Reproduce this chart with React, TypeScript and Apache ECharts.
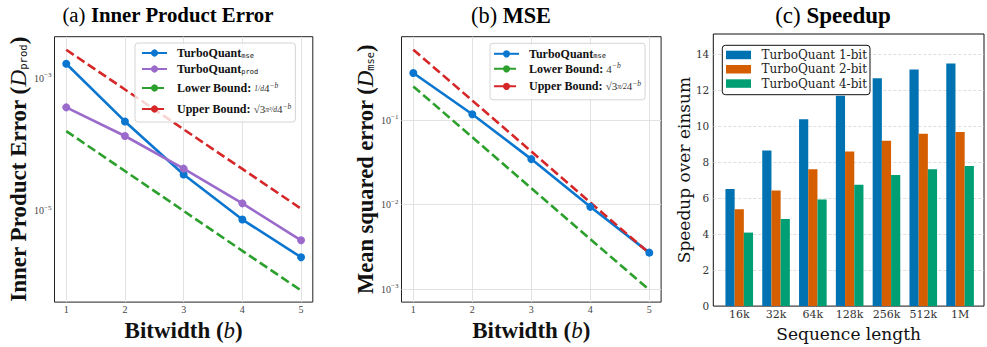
import React, { useEffect, useRef } from 'react';
import * as echarts from 'echarts';

// ---------- data ----------
const bitwidths = [1, 2, 3, 4, 5];
// (a) Inner product error
const ipTurboMse = [1.66e-3, 2.24e-4, 3.55e-5, 7.4e-6, 2.0e-6];
const ipTurboProd = [3.65e-4, 1.35e-4, 4.35e-5, 1.3e-5, 3.6e-6];
const ipLowerBound = [1.6e-4, 4.0e-5, 1.0e-5, 2.5e-6, 6.3e-7];
const ipUpperBound = [2.7e-3, 6.8e-4, 1.7e-4, 4.3e-5, 1.08e-5];
const ipGridValues = [1e-3, 1e-5];
const ipYRange = [4.21e-7, 4.25e-3];
// (b) MSE
const mseTurbo = [0.36, 0.117, 0.0345, 0.0094, 0.0027];
const mseLowerBound = [0.25, 0.0625, 0.0156, 0.0039, 0.00098];
const mseUpperBound = [0.68, 0.17, 0.0425, 0.0106, 0.00266];
const mseYRange = [7.02e-4, 0.968];
// (c) Speedup
const seqLengths = ['16k', '32k', '64k', '128k', '256k', '512k', '1M'];
const speedup1bit = [6.5, 8.63, 10.37, 11.67, 12.64, 13.13, 13.46];
const speedup2bit = [5.38, 6.41, 7.6, 8.58, 9.18, 9.56, 9.66];
const speedup4bit = [4.08, 4.84, 5.92, 6.74, 7.28, 7.6, 7.77];
const speedupMax = 15.1;
const seqIndexRange = [-0.705, 6.65];

// ---------- styles ----------
const SERIF = "'Liberation Serif', 'Times New Roman', serif";
const DEJAVU = "'DejaVu Serif', serif";
const MONO = "'DejaVu Sans Mono', monospace";
const BLUE = '#0b76cf';
const PURPLE = '#9b6bcc';
const GREEN = '#2ca02c';
const RED = '#d62728';
const BAR1 = '#0072B2';
const BAR2 = '#D55E00';
const BAR3 = '#009E73';
const GRID = '#e2e2e2';

const toXY = (ys: number[]) => bitwidths.map((b, i) => [b, ys[i]]);
const toIdx = (ys: number[]) => ys.map((v, i) => [i, v]);

const intLabel = (v: number) => (Math.abs(v - Math.round(v)) < 1e-9 ? String(Math.round(v)) : '');
const seqLabel = (v: number) => {
  const r = Math.round(v);
  return Math.abs(v - r) < 1e-9 && r >= 0 && r < seqLengths.length ? seqLengths[r] : '';
};
const logLabel = (keep: (e: number) => boolean) => (v: number) => {
  const l = Math.log10(v);
  const e = Math.round(l);
  if (Math.abs(l - e) > 1e-6 || !keep(e)) return '';
  return `{b|10}{s|\u2212${-e}}`;
};
const logRich = {
  b: { fontFamily: SERIF, fontSize: 10, color: '#444' },
  s: { fontFamily: SERIF, fontSize: 7, color: '#444', padding: [0, 0, 6, 0] },
};

const nameRich = (size: number) => ({
  t: { fontFamily: SERIF, fontSize: size, fontWeight: 'bold', color: '#111' },
  i: { fontFamily: SERIF, fontSize: size, fontStyle: 'italic', color: '#111' },
  sub: { fontFamily: MONO, fontSize: size * 0.46, color: '#111', padding: [size * 0.4, 0, 0, 0] },
});

const legendRich = {
  t0: { fontFamily: SERIF, fontSize: 12, fontWeight: 'bold', color: '#111', padding: [0, 0, 0, 5] },
  m: { fontFamily: SERIF, fontSize: 11, color: '#333' },
  fr: { fontFamily: SERIF, fontSize: 7.5, fontStyle: 'italic', color: '#333' },
  sup: { fontFamily: SERIF, fontSize: 7.5, fontStyle: 'italic', color: '#333', padding: [0, 0, 6, 0] },
  sub: { fontFamily: MONO, fontSize: 7, color: '#111', padding: [5, 0, 0, 0] },
};

const legendText: Record<string, string> = {
  'a-mse': '{t0|TurboQuant}{sub|mse}',
  'a-prod': '{t0|TurboQuant}{sub|prod}',
  'a-lower': '{t0|Lower Bound: }{fr|1/d}{m|4}{sup|\u2212b}',
  'a-upper': '{t0|Upper Bound: }{m|\u221a3}{fr|\u03c0\u00b2/d}{m|4}{sup|\u2212b}',
  'b-mse': '{t0|TurboQuant}{sub|mse}',
  'b-lower': '{t0|Lower Bound: }{m|4}{sup|\u2212b}',
  'b-upper': '{t0|Upper Bound: }{m|\u221a3}{fr|\u03c0/2}{m|4}{sup|\u2212b}',
};

const titleRich = (size: number) => ({
  n: { fontFamily: SERIF, fontSize: size, fill: '#000', color: '#000' },
  b: { fontFamily: SERIF, fontSize: size, fontWeight: 'bold', fill: '#000', color: '#000' },
});
const titleText = (text: string, x: number, size: number) => ({
  type: 'text',
  x,
  y: 4,
  style: { text, rich: titleRich(size), align: 'center', verticalAlign: 'top' },
});

const lineSeries = (name: string, axis: number, ys: number[], color: string, dashed: boolean) => ({
  name,
  type: 'line',
  xAxisIndex: axis,
  yAxisIndex: axis,
  data: toXY(ys),
  symbol: dashed ? 'none' : 'circle',
  symbolSize: 8,
  lineStyle: { color, width: 2.6, type: dashed ? [9, 4] : 'solid' },
  itemStyle: { color },
});

const barSeries = (name: string, ys: number[], color: string) => ({
  name,
  type: 'bar',
  xAxisIndex: 2,
  yAxisIndex: 2,
  data: toIdx(ys),
  barWidth: '25%',
  barGap: '0%',
  itemStyle: { color },
});

const bitAxis = (gridIndex: number) => ({
  type: 'value',
  gridIndex,
  min: 0.8,
  max: 5.2,
  axisLine: { show: false },
  axisTick: { show: false },
  axisLabel: { formatter: intLabel, fontFamily: SERIF, fontSize: 10, color: '#444', margin: 2 },
  splitLine: { show: true, showMinLine: false, showMaxLine: false, lineStyle: { color: GRID, width: 1 } },
  name: '{t|Bitwidth (}{i|b}{t|)}',
  nameLocation: 'middle',
  nameGap: 9,
  nameTextStyle: { rich: nameRich(23) },
});

export default function App() {
  const ref = useRef<HTMLDivElement>(null);
  useEffect(() => {
    document.body.style.margin = '0';
    if (!ref.current) return;
    const chart = echarts.init(ref.current, undefined, { renderer: 'svg' });
    const option: any = {
      animation: false,
      backgroundColor: '#fff',
      graphic: [
        titleText('{n|(a) }{b|Inner Product Error}', 168, 20.8),
        titleText('{n|(b) }{b|MSE}', 511, 22.3),
        titleText('{n|(c) }{b|Speedup}', 833, 23),
      ],
      grid: [
        { left: 54.5, top: 36.7, width: 258.3, height: 271.6, show: true, borderColor: '#222', borderWidth: 1, backgroundColor: 'transparent' },
        { left: 401.5, top: 36.7, width: 259.6, height: 271.6, show: true, borderColor: '#222', borderWidth: 1, backgroundColor: 'transparent' },
        { left: 713.3, top: 34, width: 273, height: 278.3, show: true, borderColor: '#111', borderWidth: 1, backgroundColor: 'transparent' },
      ],
      xAxis: [
        bitAxis(0),
        bitAxis(1),
        {
          type: 'value',
          gridIndex: 2,
          min: seqIndexRange[0],
          max: seqIndexRange[1],
          splitNumber: 7,
          axisLine: { show: false },
          axisTick: { show: false },
          splitLine: { show: false },
          axisLabel: { formatter: seqLabel, fontFamily: DEJAVU, fontSize: 11, color: '#333', margin: 3 },
          name: 'Sequence length',
          nameLocation: 'middle',
          nameGap: 13,
          nameTextStyle: { fontFamily: DEJAVU, fontSize: 17, color: '#111' },
        },
      ],
      yAxis: [
        {
          type: 'log',
          logBase: 10,
          gridIndex: 0,
          min: ipYRange[0],
          max: ipYRange[1],
          axisLine: { show: false },
          axisTick: { show: false },
          splitLine: { show: false },
          axisLabel: { formatter: logLabel((e) => e === -3 || e === -5), rich: logRich, margin: 3 },
          name: '{t|Inner Product Error (}{i|D}{sub|prod}{t|)}',
          nameLocation: 'middle',
          nameGap: 23,
          nameTextStyle: { rich: nameRich(23) },
        },
        {
          type: 'log',
          logBase: 10,
          gridIndex: 1,
          min: mseYRange[0],
          max: mseYRange[1],
          axisLine: { show: false },
          axisTick: { show: false },
          splitLine: { show: true, showMinLine: false, showMaxLine: false, lineStyle: { color: GRID, width: 1 } },
          axisLabel: { formatter: logLabel(() => true), rich: logRich, margin: 3 },
          name: '{t|Mean squared error (}{i|D}{sub|mse}{t|)}',
          nameLocation: 'middle',
          nameGap: 23,
          nameTextStyle: { rich: nameRich(22.5) },
        },
        {
          type: 'value',
          gridIndex: 2,
          min: 0,
          max: speedupMax,
          interval: 2,
          axisLine: { show: false },
          axisTick: { show: false },
          axisLabel: {
            formatter: (v: number) => (v % 2 === 0 && v <= 14 ? String(v) : ''),
            fontFamily: DEJAVU,
            fontSize: 10.5,
            color: '#333',
            margin: 4,
          },
          splitLine: { show: true, showMinLine: false, showMaxLine: false, lineStyle: { color: '#d6d6d6', width: 0.8, type: [3, 2] } },
          name: 'Speedup over einsum',
          nameLocation: 'middle',
          nameGap: 20,
          nameTextStyle: { fontFamily: DEJAVU, fontSize: 17, color: '#111' },
        },
      ],
      legend: [
        {
          orient: 'vertical',
          left: 135,
          top: 43,
          padding: [3, 4, 2, 6],
          itemGap: 0,
          itemWidth: 25,
          itemHeight: 9,
          selectedMode: false,
          backgroundColor: 'rgba(255,255,255,0.8)',
          borderColor: '#d4d4d4',
          borderWidth: 1,
          borderRadius: 3,
          formatter: (n: string) => legendText[n],
          textStyle: { rich: legendRich },
          data: [
            { name: 'a-mse', textStyle: { lineHeight: 14 } },
            { name: 'a-prod', textStyle: { lineHeight: 18 } },
            { name: 'a-lower', textStyle: { lineHeight: 20 } },
            { name: 'a-upper', textStyle: { lineHeight: 22 } },
          ],
        },
        {
          orient: 'vertical',
          left: 490,
          top: 43.3,
          padding: [3, 4, 3.5, 3],
          itemGap: 0,
          itemWidth: 25,
          itemHeight: 9,
          selectedMode: false,
          backgroundColor: 'rgba(255,255,255,0.8)',
          borderColor: '#d4d4d4',
          borderWidth: 1,
          borderRadius: 3,
          formatter: (n: string) => legendText[n],
          textStyle: { rich: legendRich },
          data: [
            { name: 'b-mse', textStyle: { lineHeight: 15 } },
            { name: 'b-lower', textStyle: { lineHeight: 15 } },
            { name: 'b-upper', textStyle: { lineHeight: 20 } },
          ],
        },
        {
          orient: 'vertical',
          left: 722.3,
          top: 45.3,
          padding: [2.5, 3, 4, 3.7],
          itemGap: 0,
          itemWidth: 25,
          itemHeight: 8.5,
          icon: 'rect',
          selectedMode: false,
          backgroundColor: '#fff',
          borderColor: '#111',
          borderWidth: 1,
          borderRadius: 3,
          formatter: (n: string) => `{t|${n}}`,
          textStyle: {
            lineHeight: 14.3,
            rich: { t: { fontFamily: DEJAVU, fontSize: 12, color: '#222', padding: [0, 0, 0, 5.5] } },
          },
          data: ['TurboQuant 1-bit', 'TurboQuant 2-bit', 'TurboQuant 4-bit'],
        },
      ],
      series: [
        {
          name: 'a-grid',
          type: 'line',
          xAxisIndex: 0,
          yAxisIndex: 0,
          data: [],
          silent: true,
          markLine: {
            silent: true,
            z: 1,
            symbol: 'none',
            label: { show: false },
            lineStyle: { color: GRID, width: 1, type: 'solid' },
            data: ipGridValues.map((v) => ({ yAxis: v })),
          },
        },
        lineSeries('a-mse', 0, ipTurboMse, BLUE, false),
        lineSeries('a-prod', 0, ipTurboProd, PURPLE, false),
        lineSeries('a-lower', 0, ipLowerBound, GREEN, true),
        lineSeries('a-upper', 0, ipUpperBound, RED, true),
        lineSeries('b-mse', 1, mseTurbo, BLUE, false),
        lineSeries('b-lower', 1, mseLowerBound, GREEN, true),
        lineSeries('b-upper', 1, mseUpperBound, RED, true),
        barSeries('TurboQuant 1-bit', speedup1bit, BAR1),
        barSeries('TurboQuant 2-bit', speedup2bit, BAR2),
        barSeries('TurboQuant 4-bit', speedup4bit, BAR3),
      ],
    };
    chart.setOption(option);
    return () => chart.dispose();
  }, []);
  return <div ref={ref} style={{ width: 987, height: 347 }} />;
}
